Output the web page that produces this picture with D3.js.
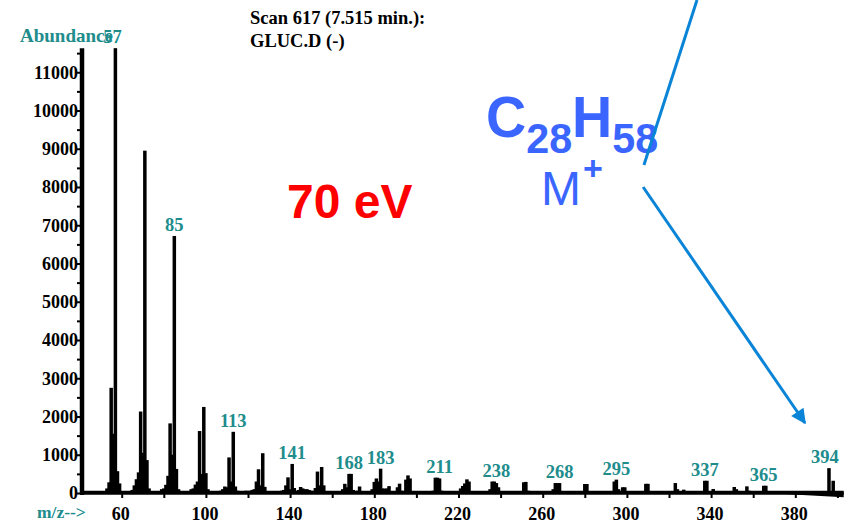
<!DOCTYPE html>
<html>
<head>
<meta charset="utf-8">
<script src="https://cdn.jsdelivr.net/npm/d3@7"></script>
<style>
  body { margin: 0; background: #fff; }
  #chart text { font-family: "Liberation Serif", "Times New Roman", serif; font-weight: bold; }
</style>
</head>
<body>
<div id="chart"></div>
<script>
// peaks of scan 617, m/z and abundance
const peakMz = [
  53, 54, 55, 56, 57, 58, 59,
  65, 66, 67, 68, 69, 70, 71, 72, 73,
  79, 80, 81, 82, 83, 84, 85, 86, 87,
  93, 94, 95, 96, 97, 98, 99, 100, 101,
  107, 108, 109, 110, 111, 112, 113, 114, 115,
  117, 119, 121, 122, 123, 124, 125, 126, 127, 128,
  131, 136, 137, 138, 139, 140, 141, 142,
  144, 145, 146, 147, 148, 149, 150, 152, 153, 154, 155, 156,
  165, 166, 167, 168, 169, 170, 172, 173,
  179, 180, 181, 182, 183, 184, 185, 186, 187, 191, 192, 193, 195, 196, 197,
  208, 209, 210, 211, 212,
  221, 222, 223, 224, 225,
  235, 236, 237, 238, 239,
  251, 252, 253,
  265, 266, 267, 268,
  280, 281,
  294, 295, 296, 298, 299,
  309, 310,
  323, 324, 327,
  337, 338, 341,
  351, 352, 357, 358,
  365, 366,
  396, 398
];
const peakAbundance = [
  120, 280, 2750, 1550, 11630, 570, 250,
  80, 200, 360, 540, 2130, 1050, 8950, 860, 120,
  100, 120, 215, 450, 1820, 1000, 6720, 630, 100,
  100, 120, 220, 300, 1620, 500, 2250, 520, 100,
  60, 100, 170, 150, 930, 300, 1600, 170, 60,
  50, 60, 60, 80, 100, 300, 620, 200, 1040, 160,
  50, 60, 80, 200, 410, 100, 760, 130,
  80, 157, 120, 100, 100, 80, 60, 130, 560, 200, 680, 200,
  100, 240, 150, 500, 500, 80, 60, 170,
  100, 290, 380, 300, 636, 120, 113, 120, 180, 150, 244, 60, 350, 460, 380,
  60, 400, 400, 380, 60,
  120, 183, 250, 357, 300,
  100, 300, 300, 260, 150,
  280, 290, 60,
  100, 260, 260, 260,
  235, 235,
  300, 350, 100, 150, 150,
  240, 240,
  260, 100, 87,
  320, 320, 105,
  157, 100, 174, 60,
  190, 190,
  650, 320
];
const peakLabels = [57, 85, 113, 141, 168, 183, 211, 238, 268, 295, 337, 365, 394];
const xTicks = d3.range(60, 401, 20);
const xTickLabels = [60, 100, 140, 180, 220, 260, 300, 340, 380];
const yTicks = d3.range(0, 11001, 1000);
const yMinorTicks = d3.range(500, 11501, 1000);
// smeared baseline after m/z 365
const noiseMz = [366, 403];
const noiseLow = [0, -110];
// pointer lines from the formula (m/z, abundance)
const pointerMz = [308.1, 333.3];
const pointerAbundance = [8575, 12889];
const arrowMz = [307.7, 384.6];
const arrowAbundance = [8000, 1830];

const width = 846, height = 523;
const teal = '#208c8c';

const svg = d3.select('#chart').append('svg')
  .attr('width', width)
  .attr('height', height);

const x = d3.scaleLinear().domain([60, 380]).range([121.7, 795.3]);
const y = d3.scaleLinear().domain([0, 11000]).range([493, 72.25]);

// bars
svg.append('g')
  .selectAll('rect')
  .data(peakMz)
  .enter()
  .append('rect')
  .attr('x', d => x(d) - 1.75)
  .attr('width', 3.5)
  .attr('y', (d, i) => y(peakAbundance[i]))
  .attr('height', (d, i) => y(0) - y(peakAbundance[i]))
  .attr('fill', '#000');

// smeared baseline
const noise = noiseMz.map((d, i) => ({ mz: d, low: noiseLow[i] }));
svg.append('path')
  .datum(noise)
  .attr('fill', '#000')
  .attr('d', d3.area().x(d => x(d.mz)).y0(d => y(d.low)).y1(y(0) - 1));

// x axis
const xAxis = svg.append('g')
  .attr('transform', `translate(0,${y(0)})`)
  .call(d3.axisBottom(x).tickValues(xTicks).tickSize(5).tickPadding(9)
    .tickFormat(d => xTickLabels.includes(d) ? d : ''));
xAxis.select('.domain').remove();
xAxis.selectAll('.tick line').attr('stroke', '#000').attr('stroke-width', 2);
xAxis.selectAll('.tick text').attr('font-size', 18).attr('fill', '#000').attr('dx', -1.5);

svg.append('line')
  .attr('x1', 80).attr('x2', x(403))
  .attr('y1', y(0) - 0.2).attr('y2', y(0) - 0.2)
  .attr('stroke', '#000').attr('stroke-width', 4);

// y axis
const yMinor = svg.append('g')
  .attr('transform', 'translate(80,0)')
  .call(d3.axisLeft(y).tickValues(yMinorTicks).tickSize(3).tickFormat(''));
yMinor.select('.domain').remove();
yMinor.selectAll('.tick line').attr('stroke-width', 2);

const yAxis = svg.append('g')
  .attr('transform', 'translate(80,0)')
  .call(d3.axisLeft(y).tickValues(yTicks).tickSize(3).tickPadding(-1).tickFormat(d3.format('d')));
yAxis.select('.domain').remove();
yAxis.selectAll('.tick line').attr('stroke-width', 2);
yAxis.selectAll('.tick text').attr('font-size', 18).attr('fill', '#000');

svg.append('line')
  .attr('x1', 82).attr('x2', 82)
  .attr('y1', y(11630)).attr('y2', y(0) + 2)
  .attr('stroke', '#000').attr('stroke-width', 4.5);

// peak labels
svg.append('g')
  .selectAll('text')
  .data(peakLabels)
  .enter()
  .append('text')
  .attr('x', d => x(d) - (d === 57 ? 3 : 0))
  .attr('y', d => {
    const near = peakMz.map((m, i) => Math.abs(m - d) <= 3 ? peakAbundance[i] : 0);
    return y(d3.max(near)) - 5;
  })
  .attr('text-anchor', 'middle')
  .attr('font-size', 18.5)
  .attr('fill', teal)
  .text(d => d);

svg.append('text')
  .attr('x', 20).attr('y', 42)
  .attr('font-size', 19).attr('fill', teal)
  .text('Abundance');

svg.append('text')
  .attr('x', 37).attr('y', 518)
  .attr('font-size', 17.5).attr('fill', teal)
  .text('m/z-->');

svg.append('text')
  .attr('x', 250).attr('y', 24)
  .attr('font-size', 18.5).attr('fill', '#000')
  .text('Scan 617 (7.515 min.):');

svg.append('text')
  .attr('x', 250).attr('y', 47)
  .attr('font-size', 18.5).attr('fill', '#000')
  .text('GLUC.D (-)');

// annotations
svg.append('text')
  .attr('x', 287).attr('y', 218)
  .style('font-family', '"Liberation Sans", Arial, sans-serif')
  .attr('font-size', 48).attr('fill', '#ff0000')
  .text('70 eV');

const formula = svg.append('text')
  .attr('transform', 'translate(486,137) scale(0.96,1)')
  .style('font-family', '"Liberation Sans", Arial, sans-serif')
  .attr('fill', '#3a66ff');
formula.append('tspan').attr('font-size', 58).text('C');
formula.append('tspan').attr('font-size', 43).attr('dy', 16).text('28');
formula.append('tspan').attr('font-size', 58).attr('dy', -16).text('H');
formula.append('tspan').attr('font-size', 43).attr('dy', 16).text('58');

svg.append('text')
  .attr('x', 541).attr('y', 205)
  .style('font-family', '"Liberation Sans", Arial, sans-serif')
  .style('font-weight', 'normal')
  .attr('font-size', 48).attr('fill', '#3a66ff')
  .text('M');
svg.append('text')
  .attr('x', 583).attr('y', 180)
  .style('font-family', '"Liberation Sans", Arial, sans-serif')
  .attr('font-size', 34).attr('fill', '#3a66ff')
  .text('+');

const blue = '#0a84d6';
svg.append('defs').append('marker')
  .attr('id', 'head')
  .attr('viewBox', '0 0 10 10')
  .attr('refX', 9).attr('refY', 5)
  .attr('markerUnits', 'userSpaceOnUse')
  .attr('markerWidth', 17).attr('markerHeight', 15)
  .attr('orient', 'auto')
  .append('path')
  .attr('d', 'M0,0 L10,5 L0,10 z')
  .attr('fill', blue);

const line = d3.line().x(d => x(d[0])).y(d => y(d[1]));
svg.append('path')
  .datum(pointerMz.map((d, i) => [d, pointerAbundance[i]]))
  .attr('d', line)
  .attr('stroke', blue).attr('stroke-width', 3).attr('fill', 'none');
svg.append('path')
  .datum(arrowMz.map((d, i) => [d, arrowAbundance[i]]))
  .attr('d', line)
  .attr('stroke', blue).attr('stroke-width', 3).attr('fill', 'none')
  .attr('marker-end', 'url(#head)');
</script>
</body>
</html>
